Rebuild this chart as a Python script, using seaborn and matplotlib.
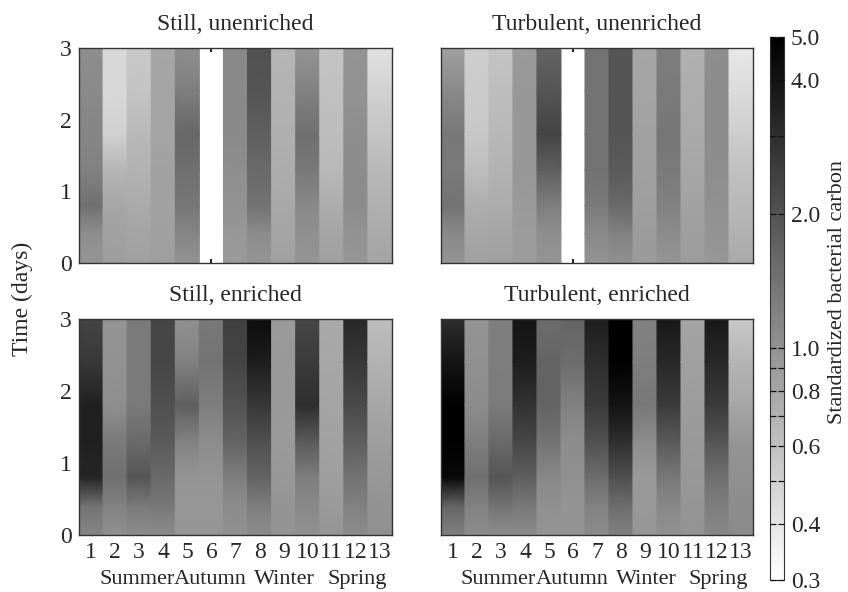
import numpy as np
import matplotlib
matplotlib.use("Agg")
import matplotlib.pyplot as plt
from matplotlib.colors import LogNorm
from matplotlib.cm import ScalarMappable
from matplotlib.transforms import blended_transform_factory
import seaborn as sns

# Sampling sites (columns) and sampling times in days (rows)
sites = list(range(1, 14))
times = [0.0, 0.4, 0.8, 1.3, 1.8, 2.4, 3.0]
seasons = ["Summer", "Autumn", "Winter", "Spring"]
season_pos = [2.9, 5.95, 9.05, 12.05]
panel_titles = ["Still, unenriched", "Turbulent, unenriched",
                "Still, enriched", "Turbulent, enriched"]
cbar_ticks = [0.3, 0.4, 0.5, 0.6, 0.7, 0.8, 0.9, 1.0, 2.0, 3.0, 4.0, 5.0]
cbar_labels = ["0.3", "0.4", "", "0.6", "", "0.8", "", "1.0", "2.0", "", "4.0", "5.0"]

nan = float("nan")

# Standardized bacterial carbon, one row per site, values at `times`
still_unenriched = [
    [0.98, 1.05, 1.45, 1.20, 1.15, 1.10, 1.05],
    [0.90, 0.85, 0.80, 0.68, 0.50, 0.47, 0.47],
    [0.86, 0.82, 0.77, 0.70, 0.66, 0.58, 0.55],
    [0.88, 0.86, 0.85, 0.85, 0.82, 0.82, 0.80],
    [1.00, 1.15, 1.35, 1.45, 1.60, 1.25, 1.05],
    [nan, nan, nan, nan, nan, nan, nan],
    [0.92, 0.95, 1.00, 1.05, 1.10, 1.10, 1.10],
    [0.98, 1.07, 1.40, 1.55, 1.75, 1.95, 2.07],
    [0.86, 0.82, 0.78, 0.75, 0.72, 0.70, 0.68],
    [0.98, 1.02, 1.12, 1.33, 1.45, 1.20, 0.98],
    [0.86, 0.82, 0.75, 0.66, 0.62, 0.60, 0.58],
    [0.95, 1.00, 1.07, 1.07, 1.05, 1.00, 0.98],
    [0.82, 0.78, 0.72, 0.66, 0.58, 0.50, 0.42],
]

turbulent_unenriched = [
    [0.98, 1.10, 1.40, 1.30, 1.33, 1.10, 0.86],
    [0.85, 0.80, 0.74, 0.62, 0.56, 0.53, 0.52],
    [0.86, 0.82, 0.76, 0.70, 0.66, 0.62, 0.58],
    [0.90, 0.90, 0.92, 0.95, 0.95, 0.95, 0.92],
    [0.98, 1.05, 1.25, 1.75, 2.35, 1.95, 1.66],
    [nan, nan, nan, nan, nan, nan, nan],
    [0.98, 1.10, 1.30, 1.40, 1.40, 1.40, 1.40],
    [1.02, 1.20, 1.55, 1.85, 1.95, 1.95, 1.95],
    [0.92, 0.90, 0.88, 0.86, 0.84, 0.82, 0.80],
    [0.98, 1.07, 1.20, 1.30, 1.35, 1.30, 1.25],
    [0.90, 0.88, 0.84, 0.80, 0.77, 0.74, 0.72],
    [0.95, 0.98, 1.02, 1.05, 1.07, 1.07, 1.05],
    [0.78, 0.72, 0.66, 0.60, 0.52, 0.45, 0.39],
]

still_enriched = [
    [1.15, 1.40, 3.30, 3.50, 3.50, 2.70, 2.35],
    [1.02, 1.20, 1.45, 1.30, 1.05, 1.00, 0.98],
    [1.07, 1.30, 1.95, 1.55, 1.30, 1.30, 1.30],
    [1.07, 1.33, 1.55, 1.85, 2.07, 2.30, 2.30],
    [0.98, 0.95, 0.98, 1.20, 1.75, 1.20, 1.02],
    [0.98, 0.95, 0.98, 1.07, 1.25, 1.40, 1.33],
    [1.02, 1.07, 1.25, 1.66, 2.00, 2.35, 2.45],
    [1.07, 1.25, 1.66, 2.07, 2.70, 3.60, 4.30],
    [0.98, 0.98, 0.95, 0.92, 0.93, 0.93, 0.92],
    [1.02, 1.12, 1.25, 1.85, 3.00, 2.60, 2.30],
    [0.98, 0.92, 0.88, 0.85, 0.82, 0.80, 0.78],
    [1.07, 1.20, 1.40, 1.75, 2.20, 2.70, 3.20],
    [1.02, 1.00, 0.95, 0.88, 0.80, 0.70, 0.62],
]

turbulent_enriched = [
    [1.20, 1.66, 4.50, 4.90, 4.90, 4.00, 3.00],
    [1.07, 1.20, 1.45, 1.25, 1.07, 1.02, 0.98],
    [1.07, 1.40, 1.95, 1.55, 1.28, 1.25, 1.25],
    [1.07, 1.33, 1.75, 2.30, 2.85, 3.60, 4.00],
    [0.98, 1.02, 1.12, 1.40, 1.66, 1.66, 1.50],
    [0.98, 0.98, 1.02, 1.07, 1.20, 1.50, 1.66],
    [1.07, 1.20, 1.50, 2.07, 2.60, 3.00, 3.60],
    [1.20, 1.50, 2.07, 3.00, 4.00, 4.90, 4.90],
    [0.98, 0.93, 0.93, 1.07, 1.33, 1.25, 1.20],
    [1.02, 1.12, 1.33, 1.85, 2.60, 3.20, 3.80],
    [0.98, 0.97, 0.95, 0.93, 0.90, 0.86, 0.82],
    [1.12, 1.25, 1.45, 1.95, 2.60, 3.20, 3.80],
    [1.07, 1.07, 1.02, 0.98, 0.80, 0.69, 0.55],
]

panels = [still_unenriched, turbulent_unenriched, still_enriched, turbulent_enriched]

sns.set_theme(style="white")
plt.rcParams["font.family"] = ["Liberation Serif", "DejaVu Serif"]

FS_TICK = 17
FS_TITLE = 17
FS_SEASON = 16
cmap = sns.color_palette("gray_r", as_cmap=True)
norm = LogNorm(vmin=0.3, vmax=5.0)

fig = plt.figure(figsize=(8.48, 5.92), dpi=100)

# axes rectangles in figure fractions: [left, bottom, width, height]
rects = [
    [0.0932, 0.5557, 0.369, 0.3632],
    [0.5200, 0.5557, 0.368, 0.3632],
    [0.0932, 0.0963, 0.369, 0.3650],
    [0.5200, 0.0963, 0.368, 0.3650],
]

for k, (rect, data, title) in enumerate(zip(rects, panels, panel_titles)):
    ax = fig.add_axes(rect)
    ax.set_axisbelow(True)
    for site, vals in zip(sites, data):
        vals = np.asarray(vals, dtype=float)
        if np.isnan(vals).any():
            continue
        ax.pcolormesh([site - 0.5, site + 0.5], times,
                      np.column_stack([vals, vals]),
                      shading="gouraud", cmap=cmap, norm=norm)
    ax.set_xlim(0.5, 13.5)
    ax.set_ylim(0, 3)
    ax.set_xticks(sites)
    ax.set_yticks([0, 1, 2, 3])
    ax.tick_params(axis="x", which="both", direction="in", length=3,
                   top=True, bottom=True, pad=5, labelsize=FS_TICK, color="black")
    ax.tick_params(axis="y", which="both", length=0, pad=5, labelsize=FS_TICK)
    for sp in ax.spines.values():
        sp.set_color("#333333")
        sp.set_linewidth(1.0)
    ax.set_title(title, fontsize=FS_TITLE, pad=13)
    if k < 2:
        ax.set_xticklabels([])
    else:
        ax.set_xticklabels([str(s) for s in sites])
        tr = blended_transform_factory(ax.transData, ax.transAxes)
        for name, pos in zip(seasons, season_pos):
            ax.text(pos, -0.205, name, transform=tr, ha="center", va="center",
                    fontsize=FS_SEASON)
    if k % 2 == 1:
        ax.set_yticklabels([])

fig.text(0.027, 0.495, "Time (days)", rotation=90, ha="center", va="center",
         fontsize=FS_TICK)

cax = fig.add_axes([0.908, 0.0203, 0.0165, 0.917])
cb = fig.colorbar(ScalarMappable(norm=norm, cmap=cmap), cax=cax)
cax.set_axisbelow(False)
cb.minorticks_off()
cb.set_ticks(cbar_ticks)
cb.set_ticklabels(cbar_labels)
cax.tick_params(which="both", direction="in", left=True, right=True,
                length=4, width=0.9, color="#111111", labelsize=FS_TICK, pad=5)
cb.outline.set_linewidth(0.8)
cb.outline.set_edgecolor("#333333")
cb.set_label("Standardized bacterial carbon", fontsize=16)
cax.yaxis.set_label_coords(4.15, 0.53)

fig.savefig("out.png", dpi=100)
